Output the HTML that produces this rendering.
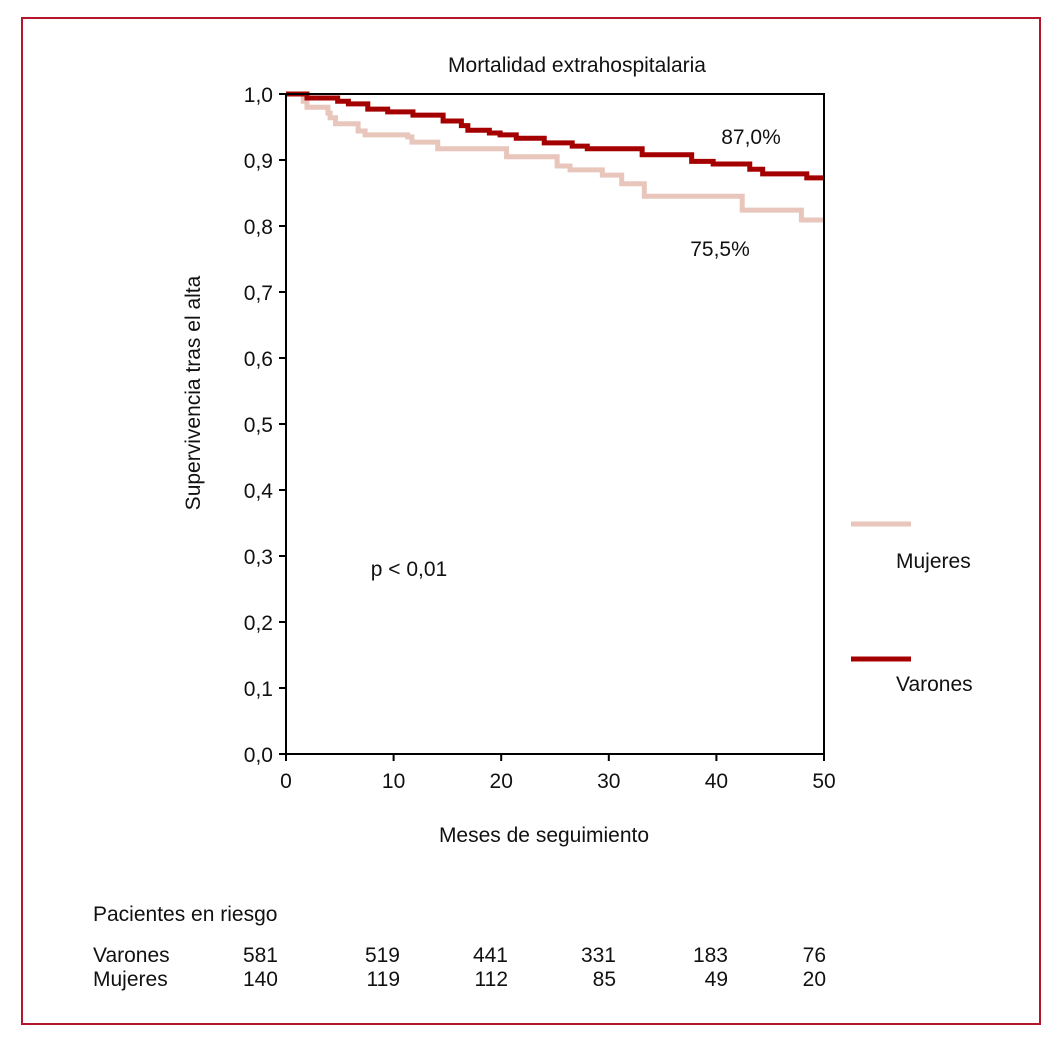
<!DOCTYPE html>
<html><head><meta charset="utf-8"><style>
body{margin:0;background:#fff;}
svg text{font-family:"Liberation Sans Narrow","Liberation Sans",sans-serif;font-size:21px;fill:#111;}
</style></head><body>
<svg width="1059" height="1038" viewBox="0 0 1059 1038">
<rect x="22" y="18" width="1018" height="1006" fill="none" stroke="#b5162b" stroke-width="2"/>
<text x="577" y="72" text-anchor="middle">Mortalidad extrahospitalaria</text>
<g id="plot"></g>
<text transform="translate(200,393) rotate(-90)" text-anchor="middle">Supervivencia tras el alta</text>
<text x="544" y="842" text-anchor="middle">Meses de seguimiento</text>
<text x="751" y="144" text-anchor="middle">87,0%</text>
<text x="720" y="256" text-anchor="middle">75,5%</text>
<text x="409" y="576" text-anchor="middle">p &lt; 0,01</text>
<line x1="851" y1="524" x2="911" y2="524" stroke="#e8c6bc" stroke-width="5"/>
<text x="896" y="568">Mujeres</text>
<line x1="851" y1="659" x2="911" y2="659" stroke="#a50000" stroke-width="5"/>
<text x="896" y="691">Varones</text>
<text x="93" y="921">Pacientes en riesgo</text>
<text x="93" y="962">Varones</text>
<text x="93" y="986">Mujeres</text>
<g id="risk"></g>
</svg>
<script>
const xTicks=[0,10,20,30,40,50];
const yTicks=[0,0.1,0.2,0.3,0.4,0.5,0.6,0.7,0.8,0.9,1.0];
const varonesT=[0,1.95,4.8,5.8,7.6,9.45,11.8,14.6,16.3,16.9,18.9,19.9,21.4,24.0,26.6,28.0,33.1,37.7,39.7,43.1,44.3,48.4];
const varonesS=[1.0,0.994,0.989,0.985,0.977,0.973,0.968,0.959,0.952,0.945,0.941,0.938,0.933,0.926,0.921,0.917,0.908,0.898,0.894,0.886,0.879,0.873];
const mujeresT=[0,1.6,1.95,3.9,4.1,4.6,6.7,7.35,11.3,11.7,14.1,20.5,25.2,26.4,29.4,31.2,33.3,42.4,47.9];
const mujeresS=[1.0,0.989,0.980,0.971,0.964,0.955,0.944,0.938,0.935,0.927,0.917,0.905,0.891,0.885,0.877,0.864,0.845,0.824,0.809];
const riskTimes=[0,10,20,30,40,50];
const riskVarones=[581,519,441,331,183,76];
const riskMujeres=[140,119,112,85,49,20];
const X0=286,X1=824,Y0=754,Y1=94;
const sx=v=>X0+(v-0)/50*(X1-X0);
const sy=v=>Y0-(v)/1*(Y0-Y1);
const NS='http://www.w3.org/2000/svg';
const g=document.getElementById('plot');
function mk(t,a,p){const e=document.createElementNS(NS,t);for(const k in a)e.setAttribute(k,a[k]);(p||g).appendChild(e);return e;}
function step(T,S,col,name){let d='M'+sx(T[0])+','+sy(S[0]);for(let i=1;i<T.length;i++){d+='H'+sx(T[i])+'V'+sy(S[i]);}d+='H'+sx(50);
const p=mk('path',{d:d,fill:'none',stroke:col,'stroke-width':5});

}
step(mujeresT,mujeresS,'#e8c6bc','series-mujeres');
step(varonesT,varonesS,'#a50000','series-varones');
const ax=mk('path',{d:'M'+X0+','+Y1+'V'+Y0+'H'+X1+'V'+Y1+'H'+X0,fill:'none',stroke:'#000','stroke-width':2});


xTicks.forEach(v=>{const l=mk('line',{x1:sx(v),x2:sx(v),y1:Y0,y2:Y0+7,stroke:'#000','stroke-width':2});


const t=mk('text',{x:sx(v),y:Y0+34,'text-anchor':'middle'});t.textContent=v;

});
yTicks.forEach(v=>{const l=mk('line',{x1:X0-7,x2:X0,y1:sy(v),y2:sy(v),stroke:'#000','stroke-width':2});


const t=mk('text',{x:X0-13,y:sy(v)+8,'text-anchor':'end'});t.textContent=v.toFixed(1).replace('.',',');

});
const rg=document.getElementById('risk');
const rx=[278,400,508,616,728,826];
riskTimes.forEach((tm,i)=>{
const a=mk('text',{x:rx[i],y:962,'text-anchor':'end'},rg);a.textContent=riskVarones[i];


const b=mk('text',{x:rx[i],y:986,'text-anchor':'end'},rg);b.textContent=riskMujeres[i];

});
</script>
</body></html>
